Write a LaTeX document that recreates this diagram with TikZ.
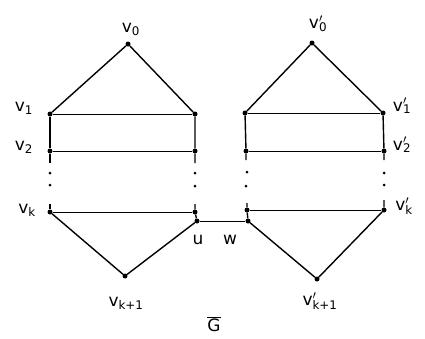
\documentclass[tikz,border=0pt]{standalone}
\usepackage{fontspec}
\setmainfont{DejaVu Sans}
\newcommand{\vpr}[1]{v\rlap{$^{\prime}$}\textsubscript{#1}}
\begin{document}
\begin{tikzpicture}[x=1pt,y=-1pt,
  vtx/.style={circle,fill=black,inner sep=0pt,minimum size=5pt},
  dotv/.style={circle,fill=black,inner sep=0pt,minimum size=3pt},
  lab/.style={inner sep=1pt,font=\fontsize{17}{19}\selectfont},
  thick edge/.style={line width=1.4pt},
  rung/.style={line width=1pt}]
\useasboundingbox (0,0) rectangle (425,338);
% left graph
\node[vtx] (a0) at (128,44) {};
\node[vtx] (a1) at (50,114) {};
\node[vtx] (b1) at (195,114) {};
\node[vtx] (a2) at (50,151) {};
\node[vtx] (b2) at (195,151) {};
\node[vtx] (ak) at (50,212) {};
\node[vtx] (bk) at (195,212) {};
\node[vtx] (u) at (197,221) {};
\node[vtx] (ak1) at (125,276) {};
\coordinate (a2e) at (50,163);
\coordinate (ake) at (50,204);
\coordinate (b2e) at (195,163);
\coordinate (bke) at (195,204);
\node[dotv] (ad1) at (50,173) {};
\node[dotv] (ad2) at (50,185) {};
\node[dotv] (bd1) at (195,173) {};
\node[dotv] (bd2) at (195,186) {};
\draw[thick edge] (a1) -- (a0) -- (b1);
\draw[thick edge] (ak) -- (ak1) -- (u);
\draw[rung] (a1) -- (b1) (a2) -- (b2) (ak) -- (bk);
\draw[thick edge] (a1) -- (a2) -- (a2e) (ake) -- (ak);
\draw[thick edge] (b1) -- (b2) -- (b2e) (bke) -- (bk) -- (u);
% right graph
\node[vtx] (c0) at (312,43) {};
\node[vtx] (c1) at (245,113) {};
\node[vtx] (d1) at (383,113) {};
\node[vtx] (c2) at (246,151) {};
\node[vtx] (d2) at (384,151) {};
\node[vtx] (ck) at (247,210) {};
\node[vtx] (dk) at (384,210) {};
\node[vtx] (w) at (248,221) {};
\node[vtx] (ck1) at (317,279) {};
\coordinate (c2e) at (246,160);
\coordinate (d2e) at (384,160);
\coordinate (cke) at (247,203);
\coordinate (dke) at (384,200);
\node[dotv] (cd1) at (247,172) {};
\node[dotv] (cd2) at (246,186) {};
\node[dotv] (dd1) at (384,173) {};
\node[dotv] (dd2) at (384,185) {};
\draw[thick edge] (c1) -- (c0) -- (d1);
\draw[thick edge] (w) -- (ck1) -- (dk);
\draw[rung] (c1) -- (d1) (c2) -- (d2) (ck) -- (dk);
\draw[thick edge] (c1) -- (c2) -- (c2e) (cke) -- (ck) -- (w);
\draw[thick edge] (d1) -- (d2) -- (d2e) (dke) -- (dk);
% bridge
\draw[rung] (u) -- (w);
% labels
\node[lab] (l0) at (131,29) {v\textsubscript{0}};
\node[lab] (l1) at (24,108) {v\textsubscript{1}};
\node[lab] (l2) at (24,147) {v\textsubscript{2}};
\node[lab] (lk) at (27,210) {v\textsubscript{k}};
\node[lab] (lu) at (198,240) {u};
\node[lab] (lk1) at (126,303) {v\textsubscript{k+1}};
\node[lab] (m0) at (318,24) {\vpr{0}};
\node[lab] (m1) at (402,106) {\vpr{1}};
\node[lab] (m2) at (402,145) {\vpr{2}};
\node[lab] (mk) at (404,206) {\vpr{k}};
\node[lab] (lw) at (230,240) {w};
\node[lab] (mk1) at (320,301) {\vpr{k+1}};
\node[lab] (g) at (214,324) {$\overline{\mbox{G}}$};
\end{tikzpicture}
\end{document}
